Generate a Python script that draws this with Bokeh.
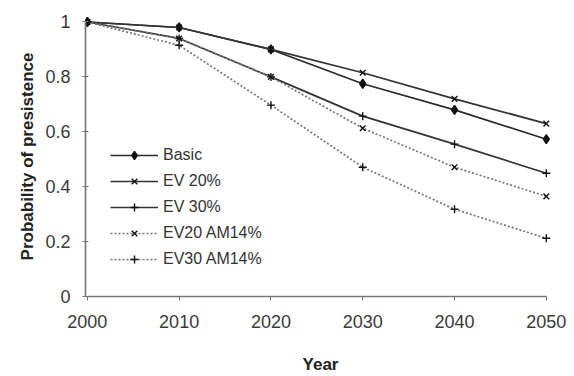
from bokeh.plotting import figure
from bokeh.models import Range1d, Legend, LegendItem
from bokeh.embed import file_html
from bokeh.resources import INLINE

years = [2000, 2010, 2020, 2030, 2040, 2050]
basic = [1.0, 0.98, 0.90, 0.775, 0.68, 0.573]
ev20 = [1.0, 0.98, 0.90, 0.815, 0.72, 0.63]
ev30 = [1.0, 0.94, 0.80, 0.657, 0.555, 0.449]
ev20_am14 = [1.0, 0.94, 0.80, 0.613, 0.471, 0.365]
ev30_am14 = [1.0, 0.915, 0.697, 0.471, 0.318, 0.212]
y_ticks = [0, 0.2, 0.4, 0.6, 0.8, 1]
y_tick_labels = {0: "0", 0.2: "0.2", 0.4: "0.4", 0.6: "0.6", 0.8: "0.8", 1: "1"}

FONT = "Liberation Sans"

p = figure(width=574, height=376, output_backend="svg", toolbar_location=None,
           x_range=Range1d(1999.8, 2051), y_range=Range1d(0, 1.02),
           min_border_left=85, min_border_right=19, min_border_top=16, min_border_bottom=79)
p.outline_line_color = None
p.xgrid.visible = False
p.ygrid.visible = False

series = [
    ("Basic", basic, "#2a2a2a", "solid", "diamond", 9),
    ("EV 20%", ev20, "#333333", "solid", "x", 8),
    ("EV 30%", ev30, "#333333", "solid", "cross", 8),
    ("EV20 AM14%", ev20_am14, "#777777", "2 2", "x", 8),
    ("EV30 AM14%", ev30_am14, "#777777", "2 2", "cross", 8),
]

items = []
for name, vals, col, dash, mk, sz in series:
    r1 = p.line(years, vals, line_color=col, line_width=1.7, line_dash=dash)
    r2 = p.scatter(years, vals, marker=mk, size=sz, line_color="#111111",
                   fill_color="#111111", line_width=1.4)
    items.append(LegendItem(label=name, renderers=[r1, r2]))

legend = Legend(items=items, location=(25, 27))
legend.glyph_width = 48
legend.glyph_height = 20
legend.label_height = 20
legend.label_standoff = 5
legend.spacing = 6
legend.padding = 0
legend.margin = 0
legend.border_line_color = None
legend.background_fill_alpha = 0
legend.label_text_font = FONT
legend.label_text_font_size = "16px"
legend.label_text_color = "#333333"
p.add_layout(legend, "center")

xa = p.xaxis[0]
xa.bounds = (2000, 2050)
xa.ticker = years
xa.axis_label = "Year"
xa.axis_label_text_font = FONT
xa.axis_label_text_font_style = "bold"
xa.axis_label_text_font_size = "17px"
xa.axis_label_text_color = "#222222"
xa.axis_label_standoff = 24
xa.major_label_text_font = FONT
xa.major_label_text_font_size = "18px"
xa.major_label_text_color = "#3a3a3a"
xa.major_label_standoff = 14
xa.major_tick_in = 0
xa.major_tick_out = 4
xa.minor_tick_line_color = None
xa.axis_line_color = "#777777"
xa.axis_line_width = 1.6
xa.major_tick_line_color = "#777777"

ya = p.yaxis[0]
ya.bounds = (0, 1)
ya.ticker = y_ticks
ya.major_label_overrides = y_tick_labels
ya.axis_label = "Probability of presistence"
ya.axis_label_text_font = FONT
ya.axis_label_text_font_style = "bold"
ya.axis_label_text_font_size = "17px"
ya.axis_label_text_color = "#222222"
ya.axis_label_standoff = 5
ya.major_label_text_font = FONT
ya.major_label_text_font_size = "18px"
ya.major_label_text_color = "#3a3a3a"
ya.major_label_standoff = 12
ya.major_tick_in = 3
ya.major_tick_out = 3
ya.minor_tick_line_color = None
ya.axis_line_color = "#777777"
ya.axis_line_width = 1.6
ya.major_tick_line_color = "#777777"

open("out.html", "w").write(file_html(p, INLINE))
